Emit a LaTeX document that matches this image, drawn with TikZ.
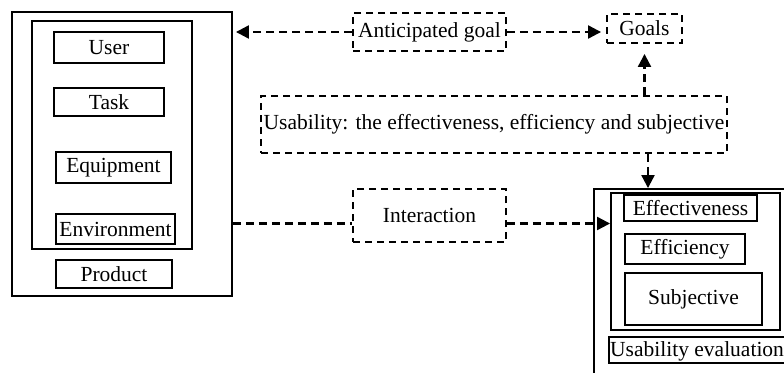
\documentclass[tikz,border=0pt]{standalone}
\usepackage{fontspec}
\setmainfont{Liberation Serif}
\usetikzlibrary{arrows.meta}
\begin{document}
\begin{tikzpicture}[x=1pt,y=-1pt,
  every node/.style={font=\fontsize{21.5}{25}\selectfont, inner sep=0pt},
  solidbox/.style={draw, line width=1.9pt, rectangle},
  dashbox/.style={draw, line width=1.9pt, rectangle, dash pattern=on 7pt off 5pt},
  dashline/.style={line width=2.2pt, dash pattern=on 8pt off 5pt},
  arr/.style={dashline, -{Triangle[length=13pt,width=13pt]}}]
\clip (0,0) rectangle (784,372);
\useasboundingbox (0,0) rectangle (784,372);

% left group: product with its components
\node[solidbox, minimum width=220pt, minimum height=284pt] (lout) at (122,154) {};
\node[solidbox, minimum width=160pt, minimum height=228pt] (lin) at (112,135) {};
\node[solidbox, minimum width=110pt, minimum height=31pt] (user) at (109,47.5) {User};
\node[solidbox, minimum width=110pt, minimum height=28pt] (task) at (109,102) {Task};
\node[solidbox, minimum width=115pt, minimum height=31pt] (equip) at (113.5,167.5) {Equipment};
\node[solidbox, minimum width=119pt, minimum height=30pt] (env) at (115.5,229) {Environment};
\node[solidbox, minimum width=116pt, minimum height=28pt] (prod) at (114,274) {Product};

% dashed middle boxes
\node[dashbox, minimum width=153pt, minimum height=38pt] (ant) at (429.5,32) {Anticipated goal};
\node[dashbox, minimum width=75pt, minimum height=29pt] (goals) at (644.5,28.5) {Goals};
\node[dashbox, minimum width=466pt, minimum height=57pt] (usab) at (494,124.5) {Usability: the effectiveness, efficiency and subjective};
\node[dashbox, minimum width=153pt, minimum height=53pt] (inter) at (429.5,215.5) {Interaction};

% right group: usability evaluation
\node[solidbox, minimum width=210pt, minimum height=210pt] (rout) at (699,294) {};
\node[solidbox, minimum width=169pt, minimum height=137pt] (rin) at (695.5,261.5) {};
\node[solidbox, minimum width=133pt, minimum height=26pt] (effe) at (690.5,208) {Effectiveness};
\node[solidbox, minimum width=120pt, minimum height=30pt] (effi) at (685,249) {Efficiency};
\node[solidbox, minimum width=137pt, minimum height=52pt] (subj) at (693.5,299) {Subjective};
\node[solidbox, minimum width=200pt, minimum height=26pt] (ueval) at (709,350) {};
\node[anchor=west] (uevaltxt) at (610,351) {Usability evaluation};

% connectors
\coordinate (iy) at (0,223.5);
\coordinate (dn) at (648,0);
\draw[arr, shorten >=3pt] (ant.west) -- (ant.west -| lout.east);
\draw[arr, shorten >=5pt] (ant.east) -- (ant.east -| goals.west);
\draw[arr, shorten >=10pt] (usab.north -| goals.south) -- (goals.south);
\draw[arr] (usab.south -| dn) -- (rout.north -| dn);
\draw[dashline] (lout.east |- iy) -- (inter.west |- iy);
\draw[arr] (inter.east |- iy) -- (rin.west |- iy);
\end{tikzpicture}
\end{document}
